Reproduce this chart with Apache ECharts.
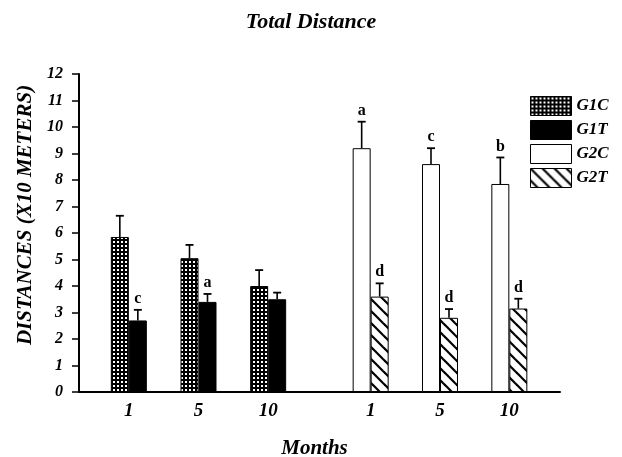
<!DOCTYPE html>
<html><head><meta charset="utf-8">
<script src="https://cdn.jsdelivr.net/npm/echarts@6/dist/echarts.min.js"></script>
<style>html,body{margin:0;padding:0;background:#fff}#c{width:622px;height:457px}</style>
</head><body><div id="c"></div>
<script>
var months = ['1', '5', '10'];
var yTicks = [0, 1, 2, 3, 4, 5, 6, 7, 8, 9, 10, 11, 12];
var g1c = [5.85, 5.05, 4.0];
var g1cErr = [0.8, 0.5, 0.6];
var g1cLetters = ['', '', ''];
var g1t = [2.7, 3.4, 3.5];
var g1tErr = [0.4, 0.3, 0.25];
var g1tLetters = ['c', 'a', ''];
var g2c = [9.2, 8.6, 7.85];
var g2cErr = [1.0, 0.6, 1.0];
var g2cLetters = ['a', 'c', 'b'];
var g2t = [3.6, 2.8, 3.15];
var g2tErr = [0.5, 0.33, 0.37];
var g2tLetters = ['d', 'd', 'd'];

var FONT = 'Liberation Serif';
var BAR_W = 18;

function dotPattern() {
  var c = document.createElement('canvas'); c.width = 4; c.height = 4;
  var x = c.getContext('2d');
  x.fillStyle = '#000'; x.fillRect(0, 0, 4, 4);
  x.fillStyle = '#fff'; x.fillRect(1, 1, 2, 2);
  return {image: c, repeat: 'repeat'};
}
function hatchPattern() {
  var s = 12;
  var c = document.createElement('canvas'); c.width = s; c.height = s;
  var x = c.getContext('2d');
  x.fillStyle = '#fff'; x.fillRect(0, 0, s, s);
  x.strokeStyle = '#000'; x.lineWidth = 2.2;
  for (var k = -1; k <= 1; k++) {
    x.beginPath(); x.moveTo(k * s - 1, -1); x.lineTo(k * s + s + 1, s + 1); x.stroke();
  }
  return {image: c, repeat: 'repeat'};
}

function errData(vals, errs) {
  return vals.map(function (v, i) { return [i, v, v + errs[i]]; });
}
function errRender(sign, letters) {
  return function (params, api) {
    var i = api.value(0);
    var top = api.coord([i, api.value(1)]);
    var hi = api.coord([i, api.value(2)]);
    var x = top[0] + sign * BAR_W / 2;
    return {type: 'group', children: [
      {type: 'line', shape: {x1: x, y1: top[1], x2: x, y2: hi[1]}, style: {stroke: '#000', lineWidth: 1.6}},
      {type: 'line', shape: {x1: x - 4, y1: hi[1], x2: x + 4, y2: hi[1]}, style: {stroke: '#000', lineWidth: 1.8}},
      {type: 'text', style: {x: x, y: hi[1] - 3, text: letters[i], align: 'center', verticalAlign: 'bottom',
        font: 'bold 16px "' + FONT + '"', fill: '#000'}}
    ]};
  };
}

var hiddenY = {type: 'value', min: 0, max: 12, show: false};
function catX(gridIndex) {
  return {type: 'category', gridIndex: gridIndex, data: months,
    axisLine: {show: false}, axisTick: {show: false}, splitLine: {show: false},
    axisLabel: {margin: 10, fontFamily: FONT, fontWeight: 'bold', fontStyle: 'italic', fontSize: 19, color: '#000'}};
}
var barStyle = function (color) { return {color: color, borderColor: '#000', borderWidth: 1}; };

var chart = echarts.init(document.getElementById('c'));
chart.setOption({
  animation: false,
  backgroundColor: '#fff',
  title: {text: 'Total Distance', left: 'center', top: 6, padding: [5, 0, 5, 10],
    textStyle: {fontFamily: FONT, fontWeight: 'bold', fontStyle: 'italic', fontSize: 22, color: '#000'}},
  legend: {data: ['G1C', 'G1T', 'G2C', 'G2T'], orient: 'vertical', left: 525, top: 91,
    icon: 'rect', itemWidth: 41, itemHeight: 19, itemGap: 4,
    itemStyle: {borderColor: '#000', borderWidth: 1},
    textStyle: {fontFamily: FONT, fontWeight: 'bold', fontStyle: 'italic', fontSize: 17, color: '#000', padding: [0, 0, 0, 0]}},
  grid: [
    {left: 79, right: 62, top: 74, bottom: 65, outerBoundsMode: 'none'},
    {left: 94, width: 209, top: 74, bottom: 65, outerBoundsMode: 'none'},
    {left: 336, width: 208, top: 74, bottom: 65, outerBoundsMode: 'none'}
  ],
  xAxis: [
    {type: 'value', gridIndex: 0, min: 0, max: 1, axisLabel: {show: false}, axisTick: {show: false}, splitLine: {show: false},
      axisLine: {lineStyle: {color: '#000', width: 2}},
      name: 'Months', nameLocation: 'middle', nameGap: 46,
      nameTextStyle: {fontFamily: FONT, fontWeight: 'bold', fontStyle: 'italic', fontSize: 21, color: '#000', padding: [0, 10, 0, 0]}},
    catX(1), catX(2)
  ],
  yAxis: [
    {type: 'value', gridIndex: 0, min: yTicks[0], max: yTicks[yTicks.length - 1], interval: 1,
      splitLine: {show: false},
      axisLine: {show: true, lineStyle: {color: '#000', width: 2}},
      axisTick: {show: true, length: 7, lineStyle: {color: '#000', width: 1.5}},
      axisLabel: {margin: 16, fontFamily: FONT, fontWeight: 'bold', fontStyle: 'italic', fontSize: 16, color: '#000'},
      name: 'DISTANCES (X10 METERS)', nameLocation: 'middle', nameRotate: 90, nameGap: 39,
      nameTextStyle: {fontFamily: FONT, fontWeight: 'bold', fontStyle: 'italic', fontSize: 21, color: '#000', padding: [0, 0, 0, 36]}},
    Object.assign({gridIndex: 1}, hiddenY),
    Object.assign({gridIndex: 2}, hiddenY)
  ],
  series: [
    {name: 'G1C', type: 'bar', xAxisIndex: 1, yAxisIndex: 1, data: g1c, barWidth: BAR_W, barGap: '0%', itemStyle: barStyle(dotPattern())},
    {name: 'G1T', type: 'bar', xAxisIndex: 1, yAxisIndex: 1, data: g1t, barWidth: BAR_W, barGap: '0%', itemStyle: barStyle('#000')},
    {name: 'G2C', type: 'bar', xAxisIndex: 2, yAxisIndex: 2, data: g2c, barWidth: BAR_W, barGap: '0%', itemStyle: barStyle('#fff')},
    {name: 'G2T', type: 'bar', xAxisIndex: 2, yAxisIndex: 2, data: g2t, barWidth: BAR_W, barGap: '0%', itemStyle: barStyle(hatchPattern())},
    {name: 'e1c', type: 'custom', xAxisIndex: 1, yAxisIndex: 1, data: errData(g1c, g1cErr), renderItem: errRender(-1, g1cLetters), z: 5},
    {name: 'e1t', type: 'custom', xAxisIndex: 1, yAxisIndex: 1, data: errData(g1t, g1tErr), renderItem: errRender(1, g1tLetters), z: 5},
    {name: 'e2c', type: 'custom', xAxisIndex: 2, yAxisIndex: 2, data: errData(g2c, g2cErr), renderItem: errRender(-1, g2cLetters), z: 5},
    {name: 'e2t', type: 'custom', xAxisIndex: 2, yAxisIndex: 2, data: errData(g2t, g2tErr), renderItem: errRender(1, g2tLetters), z: 5}
  ]
});
</script></body></html>
